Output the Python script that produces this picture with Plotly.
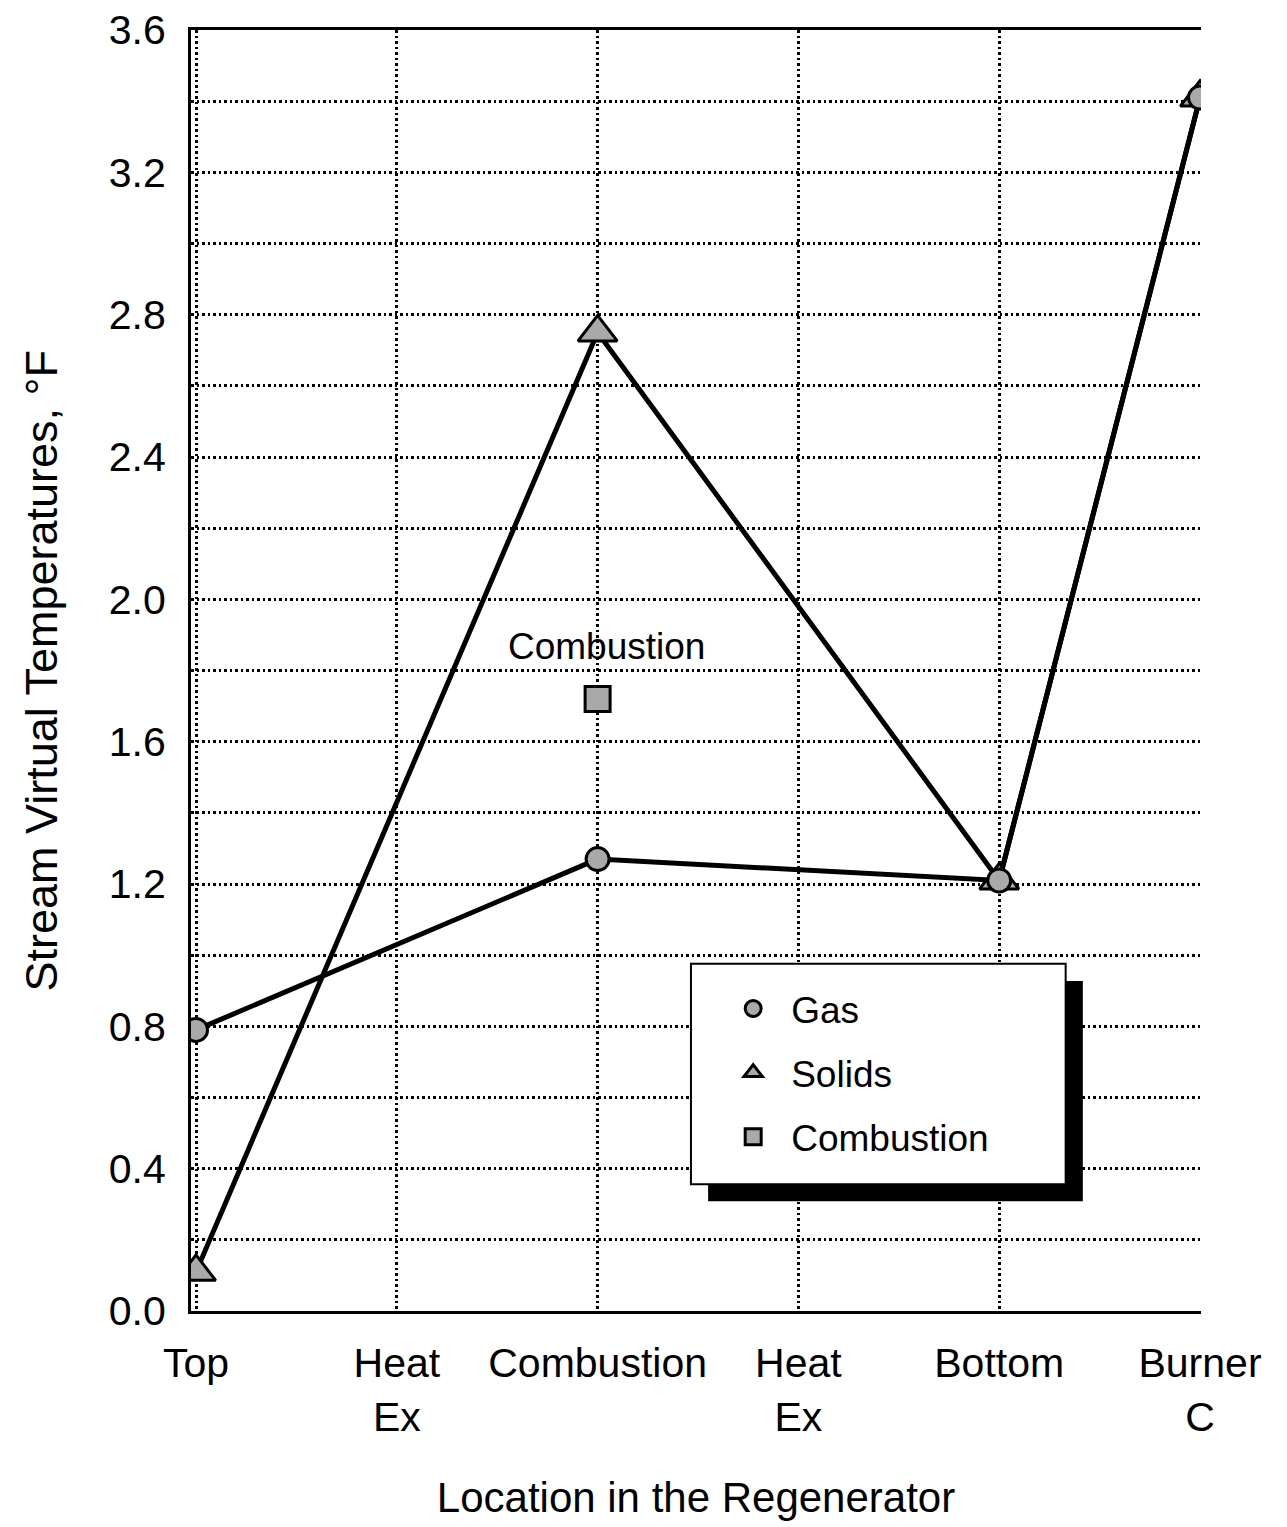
import plotly.graph_objects as go

categories = ["Top", "Heat<br>Ex", "Combustion", "Heat<br>Ex", "Bottom", "Burner<br>C"]
cat_pos = [0, 1, 2, 3, 4, 5]

gas_x = [0, 2, 4, 5]
gas_y = [0.79, 1.27, 1.21, 3.41]

solids_x = [0, 2, 4, 5]
solids_y = [0.11, 2.75, 1.21, 3.41]

comb_x = [2]
comb_y = [1.72]

y_ticks = [0.0, 0.4, 0.8, 1.2, 1.6, 2.0, 2.4, 2.8, 3.2, 3.6]

FONT = "Liberation Sans, Arial, Helvetica, sans-serif"
FILL = "#a9a9a9"
DOT = "2.5px,3px"

fig = go.Figure()
# connecting lines (not in legend)
fig.add_trace(go.Scatter(x=solids_x, y=solids_y, mode="lines", showlegend=False,
                         line=dict(color="black", width=5), hoverinfo="skip"))
fig.add_trace(go.Scatter(x=gas_x, y=gas_y, mode="lines", showlegend=False,
                         line=dict(color="black", width=5), hoverinfo="skip"))
# markers
fig.add_trace(go.Scatter(
    x=solids_x, y=solids_y, mode="markers", name="Solids",
    marker=dict(symbol="triangle-up", size=34, color=FILL, line=dict(color="black", width=3)),
    legendgroup="b", legendrank=2,
))
fig.add_trace(go.Scatter(
    x=gas_x, y=gas_y, mode="markers", name="Gas",
    marker=dict(symbol="circle", size=23, color=FILL, line=dict(color="black", width=3)),
    legendgroup="a", legendrank=1,
))
fig.add_trace(go.Scatter(
    x=comb_x, y=comb_y, mode="markers", name="Combustion",
    marker=dict(symbol="square", size=25, color=FILL, line=dict(color="black", width=3)),
    legendgroup="c", legendrank=3,
))

fig.add_annotation(x=comb_x[0], y=comb_y[0], text="Combustion", showarrow=False,
                   yshift=52, xshift=9, font=dict(family=FONT, size=37, color="black"))

# y-axis title placed as a rotated annotation
fig.add_annotation(xref="paper", yref="paper", x=0, y=0.5, xanchor="center", yanchor="middle",
                   xshift=-150, textangle=-90, showarrow=False,
                   text="Stream Virtual Temperatures, °F",
                   font=dict(family=FONT, size=45, color="black"))

# legend frame with drop shadow (paper coordinates)
L, T, R, B = 0.495, 0.271, 0.866, 0.099
dx, dy = 0.017, 0.0133
fig.add_shape(type="rect", xref="paper", yref="paper", x0=L + dx, x1=R + dx, y0=B - dy, y1=T - dy,
              fillcolor="black", line=dict(color="black", width=0), layer="above")
fig.add_shape(type="rect", xref="paper", yref="paper", x0=L, x1=R, y0=B, y1=T,
              fillcolor="white", line=dict(color="black", width=2), layer="above")

# page body has a small default margin, so the figure is sized to fit the window
fig.update_layout(
    width=1279, height=1519,
    margin=dict(l=183, r=86, t=22, b=216),
    paper_bgcolor="white", plot_bgcolor="white",
    font=dict(family=FONT, color="black"),
    legend=dict(x=0.519, y=0.260, xanchor="left", yanchor="top",
                bgcolor="rgba(0,0,0,0)", borderwidth=0,
                font=dict(family=FONT, size=37, color="black"),
                itemwidth=66, tracegroupgap=13, traceorder="grouped"),
    showlegend=True,
)
fig.update_xaxes(
    range=[-0.025, 5.005], tickmode="array", tickvals=cat_pos, ticktext=categories,
    showgrid=True, gridcolor="black", griddash=DOT, gridwidth=2.5,
    showline=True, linecolor="black", linewidth=3, mirror=True,
    ticks="", ticklabelstandoff=14, zeroline=False, automargin=False,
    ticklabeloverflow="allow",
    tickfont=dict(family=FONT, size=41, color="black"),
    title=dict(text="Location in the Regenerator", font=dict(family=FONT, size=42, color="black"), standoff=45),
)
fig.update_yaxes(
    range=[0, 3.6], tickmode="array", tickvals=y_ticks, tickformat=".1f",
    showgrid=True, gridcolor="black", griddash=DOT, gridwidth=2.5,
    minor=dict(dtick=0.2, showgrid=True, gridcolor="black", griddash=DOT, gridwidth=2.5, ticks=""),
    showline=True, linecolor="black", linewidth=3, mirror=False,
    ticks="", ticklabelstandoff=14, zeroline=False, automargin=False,
    ticklabeloverflow="allow",
    tickfont=dict(family=FONT, size=41, color="black"),
)

fig.write_html("out.html")
